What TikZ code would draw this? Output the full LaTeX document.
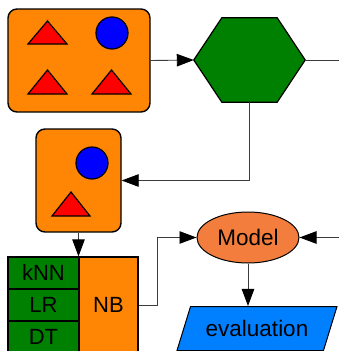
\documentclass[tikz,border=0pt]{standalone}
\usepackage{fontspec}
\setmainfont{Liberation Sans}
\usetikzlibrary{arrows.meta,shapes.geometric}
\definecolor{boxorange}{RGB}{255,133,5}
\definecolor{hexgreen}{RGB}{0,128,0}
\definecolor{modelfill}{RGB}{242,125,60}
\definecolor{evalblue}{RGB}{0,128,255}
\definecolor{wire}{RGB}{60,60,60}
\tikzset{
  panel/.style={draw=black, line width=1.4pt, fill=boxorange, rounded corners=9pt, inner sep=0pt},
  tri/.style={draw=black, line width=1.2pt, fill=red},
  dot/.style={draw=black, line width=1.2pt, fill=blue},
  cell/.style={draw=black, line width=1.2pt, inner sep=0pt, font=\fontsize{22}{24}\selectfont},
  wirepath/.style={draw=wire, line width=0.9pt},
  flow/.style={wirepath, -{Triangle[length=17pt,width=12.5pt,color=black,fill=black]}},
  bigtext/.style={font=\fontsize{22.5}{24}\selectfont}
}
\begin{document}
\begin{tikzpicture}[x=1pt,y=-1pt]
\useasboundingbox (0,0) rectangle (339,351);

% first sample panel
\node[panel, minimum width=142pt, minimum height=103pt] (setA) at (79,60.5) {};
\draw[tri] (28,44) -- (47.5,21) -- (67,44) -- cycle;
\draw[dot] (112,33) circle (16);
\draw[tri] (28,94) -- (47.5,70) -- (67,94) -- cycle;
\draw[tri] (92,94) -- (111.5,70) -- (131,94) -- cycle;

% hexagon processing step
\node[minimum width=111pt, minimum height=84pt, inner sep=0pt] (proc) at (249.5,60) {};
\draw[fill=hexgreen, draw=black, line width=1.2pt]
  (proc.west) -- ([xshift=28pt]proc.north west) -- ([xshift=-28pt]proc.north east)
  -- (proc.east) -- ([xshift=-28pt]proc.south east) -- ([xshift=28pt]proc.south west) -- cycle;

% second sample panel
\node[panel, minimum width=85pt, minimum height=103pt] (setB) at (78.5,180.5) {};
\draw[dot] (92,163) circle (16);
\draw[tri] (52,216) -- (71,192) -- (90,216) -- cycle;

% classifier table
\node[cell, fill=hexgreen, minimum width=71pt, minimum height=32pt] (knn) at (43.5,273) {kNN};
\node[cell, fill=hexgreen, minimum width=71pt, minimum height=32pt] (lr) at (43.5,305) {LR};
\node[cell, fill=hexgreen, minimum width=71pt, minimum height=32pt] (dt) at (43.5,337) {DT};
\node[cell, fill=boxorange, minimum width=59pt, minimum height=96pt] (nb) at (108.5,305) {NB};

% model and evaluation
\node[ellipse, draw=black, line width=1pt, fill=modelfill, minimum width=102pt, minimum height=51pt, inner sep=0pt, bigtext] (model) at (248,237.5) {Model};
\node[trapezium, trapezium left angle=50.7, trapezium right angle=129.3, trapezium stretches body,
      draw=black, line width=1pt, fill=evalblue, minimum width=160pt, minimum height=44pt, inner sep=0pt, bigtext] (eval) at (257,328.5) {evaluation};

% loose ends at the right border
\coordinate (outA) at (339,60);
\coordinate (inM) at (339,237.5);

% connectors
\draw[flow] (setA.east) -- (proc.west);
\draw[wirepath] (proc.east) -- (outA);
\draw[flow] (proc.south) |- (setB.east);
\draw[flow] (setB.south) -- (setB.south |- knn.north east);
\draw[flow] (nb.east) -- ++(19,0) |- (model.west);
\draw[flow] (model.south) -- (model.south |- eval.north);
\draw[flow] (inM) -- (model.east);
\end{tikzpicture}
\end{document}
